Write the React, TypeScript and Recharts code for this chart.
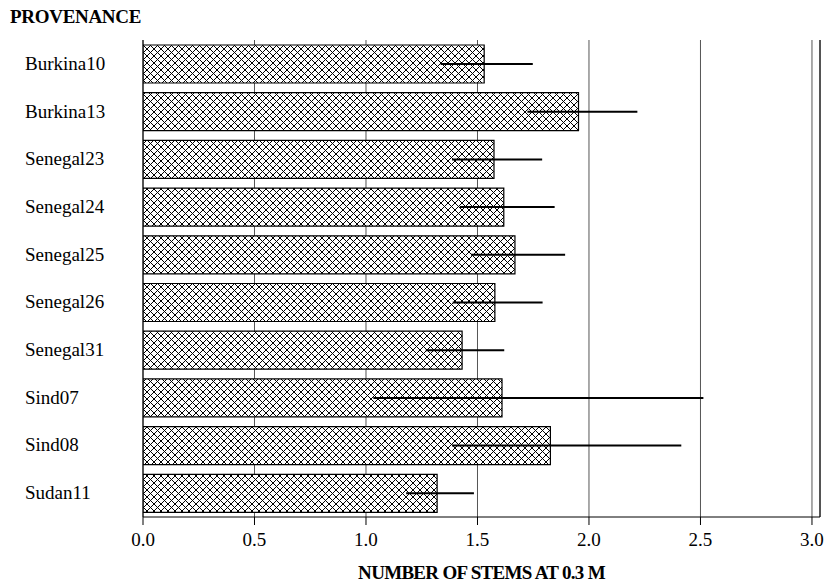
import React from 'react';
import { BarChart, Bar, XAxis, YAxis, CartesianGrid, ErrorBar } from 'recharts';

const provenances = [
  'Burkina10', 'Burkina13', 'Senegal23', 'Senegal24', 'Senegal25',
  'Senegal26', 'Senegal31', 'Sind07', 'Sind08', 'Sudan11',
];
const stems = [1.53, 1.953, 1.574, 1.618, 1.668, 1.578, 1.431, 1.61, 1.827, 1.319];
const errLow = [0.195, 0.229, 0.188, 0.197, 0.197, 0.189, 0.163, 0.577, 0.441, 0.139];
const errHigh = [0.218, 0.264, 0.216, 0.228, 0.225, 0.214, 0.189, 0.903, 0.587, 0.165];
const xTicks = [0, 0.5, 1, 1.5, 2, 2.5, 3];

const data = provenances.map((name, i) => ({
  name,
  stems: stems[i],
  err: [errLow[i], errHigh[i]],
}));

const serif = '"Liberation Serif", "Times New Roman", serif';

const CategoryTick = (props: any) => {
  const { y, payload } = props;
  return (
    <text x={25} y={y} dy={6} textAnchor="start" fontFamily={serif} fontSize={19} fill="#000">
      {payload.value}
    </text>
  );
};

export default function App() {
  return (
    <div style={{ position: 'absolute', left: 0, top: 0, width: 825, height: 585, background: '#fff' }}>
      <div
        style={{
          position: 'absolute', left: 10, top: 6, fontFamily: serif, fontWeight: 'bold',
          fontSize: 19, letterSpacing: -0.3, color: '#000',
        }}
      >
        PROVENANCE
      </div>
      <BarChart
        width={825}
        height={585}
        data={data}
        layout="vertical"
        margin={{ top: 40, right: 2, bottom: 0, left: 0 }}
      >
        <defs>
          <pattern id="xhatch" width="7" height="7" patternUnits="userSpaceOnUse">
            <rect width="7" height="7" fill="#fff" />
            <path d="M0,0 L7,7 M7,0 L0,7" stroke="#000" strokeWidth={1} />
          </pattern>
        </defs>
        <CartesianGrid horizontal={false} stroke="#555" />
        <XAxis
          type="number"
          domain={[0, 3.036]}
          ticks={xTicks}
          tickFormatter={(v: number) => v.toFixed(1)}
          height={68}
          tickSize={8}
          tickMargin={8}
          axisLine={{ stroke: '#000' }}
          tickLine={{ stroke: '#000' }}
          tick={{ fill: '#000', fontFamily: serif, fontSize: 19 }}
          allowDataOverflow
          label={{
            value: 'NUMBER OF STEMS AT 0.3 M',
            position: 'insideBottom',
            offset: 6,
            fill: '#000',
            fontFamily: serif,
            fontWeight: 'bold',
            fontSize: 19,
            letterSpacing: -0.7,
          }}
        />
        <XAxis
          xAxisId="top"
          orientation="top"
          type="number"
          domain={[0, 3.036]}
          height={0}
          tick={false}
          tickLine={false}
          axisLine={{ stroke: '#000' }}
        />
        <YAxis
          type="category"
          dataKey="name"
          width={143}
          axisLine={{ stroke: '#000' }}
          tickLine={false}
          tick={<CategoryTick />}
        />
        <YAxis
          yAxisId="right"
          orientation="right"
          type="category"
          dataKey="name"
          width={3}
          tick={false}
          tickLine={false}
          axisLine={{ stroke: '#000' }}
        />
        <Bar dataKey="stems" fill="url(#xhatch)" stroke="#000" strokeWidth={1.2} barSize={38} isAnimationActive={false}>
          <ErrorBar dataKey="err" direction="x" width={0} stroke="#000" strokeWidth={2} />
        </Bar>
      </BarChart>
    </div>
  );
}
